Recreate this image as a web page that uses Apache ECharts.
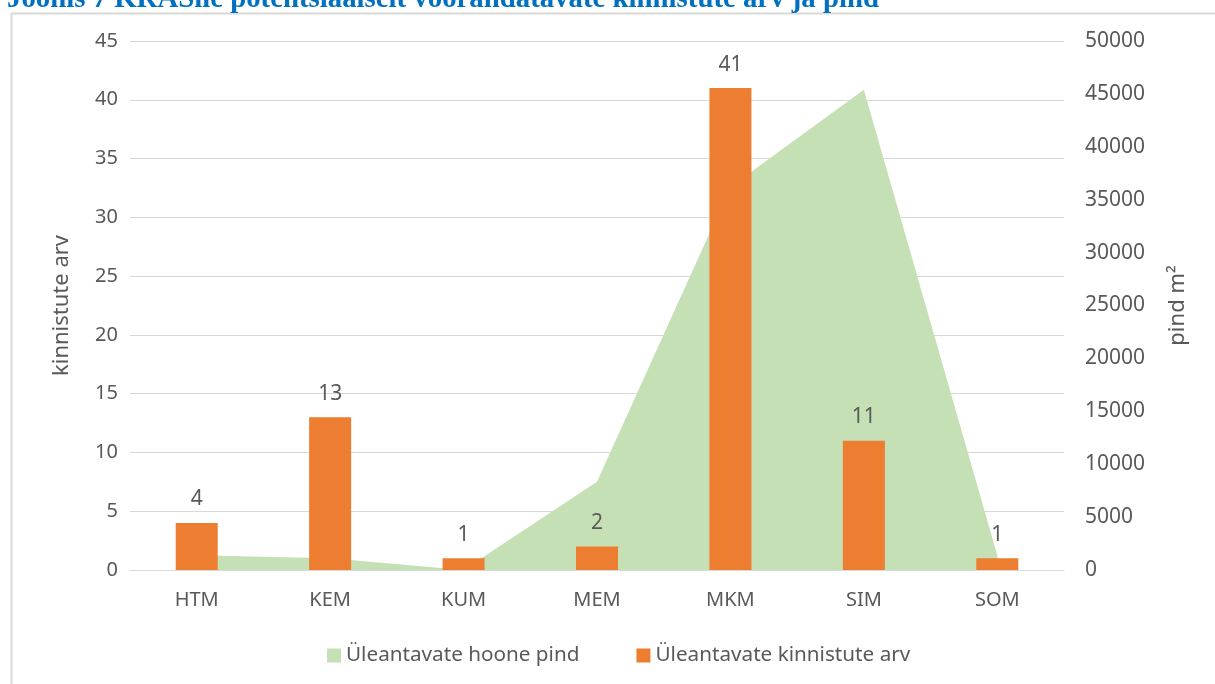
<!DOCTYPE html>
<html>
<head>
    <meta charset="utf-8" />
    <title>KRAS kinnistud</title>
    <script src="https://cdn.jsdelivr.net/npm/echarts@6/dist/echarts.min.js"></script>
    <style>
        html, body { margin: 0; padding: 0; background: #fff; }
        #chart { width: 1215px; height: 684px; }
    </style>
</head>
<body>
    <div id="chart"></div>
    <script type="text/javascript">
        // andmed
        var categories = ['HTM', 'KEM', 'KUM', 'MEM', 'MKM', 'SIM', 'SOM'];
        var kinnistuteArv = [4, 13, 1, 2, 41, 11, 1];
        var hoonePind = [1400, 1100, 0, 8350, 36200, 45400, 1400];
        var leftTicks = { min: 0, max: 45, interval: 5 };
        var rightTicks = { min: 0, max: 50000, interval: 5000 };

        var txt = '#595959';
        var font = 'Noto Sans';

        var myChart = echarts.init(document.getElementById('chart'));

        myChart.setOption({
            animation: false,
            title: {
                text: 'Joonis 7 KRASile potentsiaalselt võõrandatavate kinnistute arv ja pind',
                left: 7,
                top: -15,
                padding: 0,
                textStyle: {
                    color: '#0070C0',
                    fontFamily: 'Liberation Serif',
                    fontWeight: 'bold',
                    fontSize: 28.8
                }
            },
            graphic: [{
                type: 'rect',
                z: -10,
                shape: { x: 11.5, y: 13.5, width: 1300, height: 800 },
                style: { fill: 'none', stroke: '#d9d9d9', lineWidth: 2 }
            }],
            grid: {
                left: 130,
                right: 151,
                top: 41,
                bottom: 114
            },
            legend: {
                bottom: 13,
                left: 322,
                icon: 'rect',
                itemWidth: 14,
                itemHeight: 14,
                itemGap: 57,
                data: ['Üleantavate hoone pind', 'Üleantavate kinnistute arv'],
                textStyle: { color: txt, fontSize: 20.7, fontFamily: font }
            },
            xAxis: {
                type: 'category',
                data: categories,
                axisLine: { lineStyle: { color: '#d9d9d9', width: 1 } },
                axisTick: { show: false },
                axisLabel: { color: txt, fontSize: 20, fontFamily: font, margin: 20 }
            },
            yAxis: [{
                type: 'value',
                min: leftTicks.min,
                max: leftTicks.max,
                interval: leftTicks.interval,
                name: 'kinnistute arv',
                nameLocation: 'middle',
                nameRotate: 90,
                nameGap: 57,
                nameTextStyle: { color: txt, fontSize: 22, fontFamily: font },
                axisLine: { show: false },
                axisTick: { show: false },
                splitLine: { lineStyle: { color: '#d9d9d9' } },
                axisLabel: { color: txt, fontSize: 20, fontFamily: font, margin: 12 }
            }, {
                type: 'value',
                min: rightTicks.min,
                max: rightTicks.max,
                interval: rightTicks.interval,
                name: 'pind m²',
                nameLocation: 'middle',
                nameRotate: 90,
                nameGap: 103,
                nameTextStyle: { color: txt, fontSize: 22, fontFamily: font },
                axisLine: { show: false },
                axisTick: { show: false },
                splitLine: { show: false },
                axisLabel: {
                    color: txt, fontSize: 21, fontFamily: font, margin: 21,
                    formatter: function (v) { return String(v); }
                }
            }],
            series: [{
                name: 'Üleantavate hoone pind',
                type: 'line',
                yAxisIndex: 1,
                z: 1,
                symbol: 'none',
                lineStyle: { width: 0 },
                itemStyle: { color: '#C5E0B4' },
                areaStyle: { color: '#C5E0B4', opacity: 1 },
                data: hoonePind
            }, {
                name: 'Üleantavate kinnistute arv',
                type: 'bar',
                yAxisIndex: 0,
                z: 3,
                barWidth: 42,
                itemStyle: { color: '#ED7D31' },
                label: {
                    show: true,
                    position: 'top',
                    distance: 13,
                    color: txt,
                    fontSize: 21,
                    fontFamily: font
                },
                data: kinnistuteArv
            }]
        });
    </script>
</body>
</html>
